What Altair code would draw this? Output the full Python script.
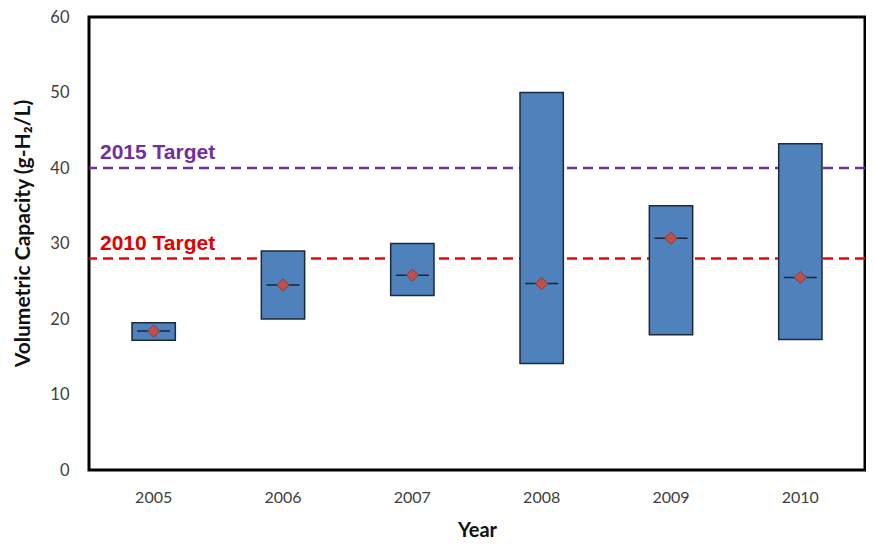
import altair as alt
import pandas as pd

years = ["2005", "2006", "2007", "2008", "2009", "2010"]
low = [17.2, 20.0, 23.1, 14.1, 17.9, 17.3]
high = [19.5, 29.0, 30.0, 50.0, 35.0, 43.2]
mean = [18.4, 24.5, 25.8, 24.7, 30.7, 25.5]

target_labels = ["2015 Target", "2010 Target"]
target_values = [40, 28]
target_line_colors = ["#7030A0", "#FF0000"]
target_text_colors = ["#7030A0", "#E00000"]

df = pd.DataFrame({"year": years, "low": low, "high": high, "mean": mean})
tg = pd.DataFrame({"label": target_labels, "value": target_values,
                   "lc": target_line_colors, "tc": target_text_colors})

x = alt.X("year:N",
          scale=alt.Scale(paddingInner=0.665, paddingOuter=0.3325),
          axis=alt.Axis(title="Year", labelAngle=0, domain=False, ticks=False,
                        labelPadding=19, labelFontSize=16, labelColor="#404040",
                        labelFont="Lato", titleFont="Lato", titleFontSize=20,
                        titleFontWeight="bold", titleColor="#111111", titleY=50))
yscale = alt.Scale(domain=[0, 60])
yaxis = alt.Axis(title="Volumetric Capacity (g-H₂/L)", values=[0, 10, 20, 30, 40, 50, 60],
                 domain=False, ticks=False, grid=False, labelPadding=20,
                 labelFontSize=16.5, labelColor="#404040", labelFont="Lato",
                 titleFont="Lato", titleFontSize=21, titleFontWeight="bold",
                 titleColor="#111111", titleX=-56, titleY=216)

rules = alt.Chart(tg).mark_rule(strokeDash=[10, 6], strokeWidth=2.5).encode(
    y=alt.Y("value:Q", scale=yscale, axis=yaxis),
    color=alt.Color("lc:N", scale=None))

texts = alt.Chart(tg).mark_text(align="left", baseline="alphabetic", fontSize=21,
                                fontWeight="bold", font="Liberation Sans", dy=-9).encode(
    x=alt.value(11),
    y=alt.Y("value:Q", scale=yscale),
    text="label:N",
    color=alt.Color("tc:N", scale=None))

bars = alt.Chart(df).mark_bar(fill="#4F81BD", stroke="#1E2A38", strokeWidth=1.5).encode(
    x=x,
    y=alt.Y("low:Q", scale=yscale, axis=yaxis),
    y2="high:Q")

ticks = alt.Chart(df).mark_tick(color="black", thickness=1.5, size=33,
                                orient="horizontal").encode(
    x=x, y=alt.Y("mean:Q", scale=yscale))

pts = alt.Chart(df).mark_point(shape="diamond", filled=True, fill="#C0504D",
                               stroke="#8B3A38", strokeWidth=1, size=150,
                               opacity=1).encode(
    x=x, y=alt.Y("mean:Q", scale=yscale))

chart = alt.layer(rules, bars, ticks, pts, texts).properties(
    width=776, height=453,
    background="white",
    autosize=alt.AutoSizeParams(type="none"),
    padding={"left": 81, "top": 9, "right": 1, "bottom": 75},
).configure_view(stroke="black", strokeWidth=3)

chart.save("out.html", embed_options={"renderer": "svg", "actions": False})
